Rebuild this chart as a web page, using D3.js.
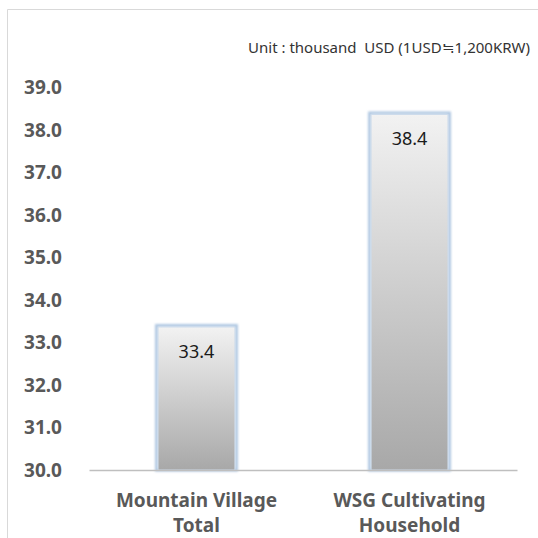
<!DOCTYPE html>
<html>
<head>
<meta charset="utf-8">
<script src="https://cdn.jsdelivr.net/npm/d3@7/dist/d3.min.js"></script>
<style>
  body { margin: 0; background: #fff; }
  svg text { font-family: "Noto Sans", "Open Sans", sans-serif; white-space: pre; }
</style>
</head>
<body>
<svg class="chart" width="538" height="538"></svg>
<script>
// data
var categories = ["Mountain Village|Total", "WSG Cultivating|Household"];
var values = [33.4, 38.4];
var yTicks = [30, 31, 32, 33, 34, 35, 36, 37, 38, 39];
var unitLabel = "Unit : thousand  USD (1USD\u22521,200KRW)";

(function(){
    var svg = d3.select("svg.chart"),
        width = +svg.attr("width"),
        height = +svg.attr("height");

    var margin = {top: 87.5, right: 21, bottom: 68, left: 89};

    // frame (only left and top edges show in the crop)
    svg.append("line").attr("x1", 7.5).attr("y1", 9.5).attr("x2", 7.5).attr("y2", height)
        .attr("stroke", "#d9d9d9");
    svg.append("line").attr("x1", 7.5).attr("y1", 9.5).attr("x2", width).attr("y2", 9.5)
        .attr("stroke", "#d9d9d9");

    var x = d3.scaleBand()
        .domain(categories)
        .range([margin.left, width - margin.right])
        .paddingInner(0.625)
        .paddingOuter(0.317);

    var y = d3.scaleLinear()
        .domain([30, 39])
        .range([height - margin.bottom, margin.top]);

    var defs = svg.append("defs");
    var grad = defs.append("linearGradient")
        .attr("id", "barfill")
        .attr("x1", 0).attr("y1", 0).attr("x2", 0).attr("y2", 1);
    grad.append("stop").attr("offset", "0%").attr("stop-color", "#f2f2f2");
    grad.append("stop").attr("offset", "100%").attr("stop-color", "#a8a8a8");

    var glow = defs.append("filter").attr("id", "glow")
        .attr("x", "-20%").attr("y", "-20%").attr("width", "140%").attr("height", "140%");
    glow.append("feGaussianBlur").attr("stdDeviation", 1.3);

    // y axis labels
    var yAxis = d3.axisLeft(y)
        .tickValues(yTicks)
        .tickSize(0)
        .tickPadding(0)
        .tickFormat(d3.format(".1f"));

    var yg = svg.append("g")
        .attr("transform", "translate(" + 62 + ",0)")
        .call(yAxis);
    yg.select(".domain").remove();
    yg.selectAll("text")
        .attr("fill", "#595959")
        .attr("font-size", 19)
        .attr("font-weight", "bold");

    // bars
    var bar = svg.append("g").selectAll("g")
        .data(values)
        .enter().append("g");

    bar.append("rect")
        .attr("x", function(d, i) { return x(categories[i]); })
        .attr("y", function(d) { return y(d); })
        .attr("width", x.bandwidth())
        .attr("height", function(d) { return y(30) - y(d); })
        .attr("fill", "none")
        .attr("stroke", "#b0c8e2")
        .attr("stroke-width", 3)
        .attr("filter", "url(#glow)");

    bar.append("rect")
        .attr("x", function(d, i) { return x(categories[i]) + 1.5; })
        .attr("y", function(d) { return y(d) + 1.5; })
        .attr("width", x.bandwidth() - 3)
        .attr("height", function(d) { return y(30) - y(d) - 1.5; })
        .attr("fill", "url(#barfill)")
        .attr("stroke", "#cddbeb")
        .attr("stroke-width", 1);

    bar.append("text")
        .attr("x", function(d, i) { return x(categories[i]) + x.bandwidth() / 2; })
        .attr("y", function(d) { return y(d) + 32; })
        .attr("text-anchor", "middle")
        .attr("font-size", 18)
        .attr("fill", "#1a1a1a")
        .text(function(d) { return d3.format(".1f")(d); });

    // x axis
    var xAxis = d3.axisBottom(x).tickSize(0).tickFormat("");
    var xg = svg.append("g")
        .attr("transform", "translate(0," + y(30) + ")")
        .call(xAxis);
    xg.select(".domain")
        .attr("stroke", "#bfbfbf")
        .attr("stroke-width", 1.5);

    var catLabel = svg.append("g").selectAll("text")
        .data(categories)
        .enter().append("text")
        .attr("x", function(d) { return x(d) + x.bandwidth() / 2; })
        .attr("y", 507)
        .attr("text-anchor", "middle")
        .attr("font-size", 19)
        .attr("font-weight", "bold")
        .attr("fill", "#595959");
    catLabel.selectAll("tspan")
        .data(function(d) { return d.split("|"); })
        .enter().append("tspan")
        .attr("x", function() { return d3.select(this.parentNode).attr("x"); })
        .attr("dy", function(d, i) { return i === 0 ? 0 : 25; })
        .text(function(d) { return d; });

    svg.append("text")
        .attr("x", 530)
        .attr("y", 53)
        .attr("text-anchor", "end")
        .attr("font-size", 15)
        .attr("fill", "#333")
        .text(unitLabel);
})();
</script>
</body>
</html>
